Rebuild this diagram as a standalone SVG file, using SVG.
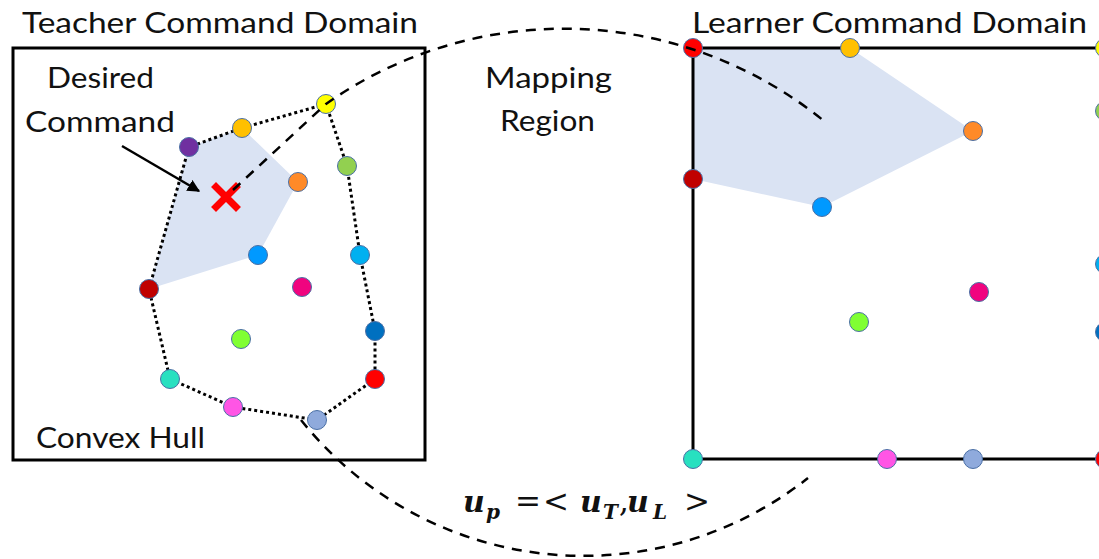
<svg xmlns="http://www.w3.org/2000/svg" width="1099" height="559" viewBox="0 0 1099 559">
  <style>
    .label { font-family: Lato, "Liberation Sans", sans-serif; font-size: 28px; fill: #111; }
    .box { fill: none; stroke: #000; stroke-width: 3; }
    .shade { fill: #dae3f3; stroke: none; }
    .hull { fill: none; stroke: #000; stroke-width: 3; stroke-dasharray: 3 3; }
    .dash { fill: none; stroke: #000; stroke-width: 2.5; stroke-dasharray: 10 8; }
    .pt { stroke: #4a6fa5; stroke-width: 1; }
    .math { font-family: "DejaVu Serif", "Liberation Serif", serif; fill: #111; }
    .mv { font-weight: bold; font-style: italic; font-size: 30px; }
    .ms { font-weight: bold; font-style: italic; font-size: 20px; }
    .mo { font-size: 31px; }
  </style>
  <defs>
    <marker id="arrowHead" viewBox="0 0 10 10" refX="9" refY="5" markerWidth="5" markerHeight="5" orient="auto">
      <path d="M0,0 L10,5 L0,10 z" fill="#000"/>
    </marker>
  </defs>

  <rect width="1099" height="559" fill="#fff"/>

  <!-- domain frames -->
  <g id="teacher-domain">
    <polygon class="shade" points="189,147 242,128 298,182 258,255 149,289"/>
    <rect class="box" x="13" y="48" width="412" height="412"/>
    <text class="label" x="22" y="33" textLength="396" lengthAdjust="spacingAndGlyphs">Teacher Command Domain</text>
    <text class="label" x="36" y="448" textLength="169" lengthAdjust="spacingAndGlyphs">Convex Hull</text>
  </g>
  <g id="learner-domain">
    <polygon class="shade" points="693,48 850,48 973,131 822,207 693,179"/>
    <path class="box" d="M1110,48 H693 V459 H1110"/>
    <text class="label" x="692" y="33" textLength="395" lengthAdjust="spacingAndGlyphs">Learner Command Domain</text>
  </g>

  <!-- convex hull outline in the teacher domain -->
  <g id="hull">
    <polyline class="hull" points="326,104 242,128 189,147 149,289 170,379 233,407 317,420 375,379 375,331 360,255 347,166 326,104"/>
  </g>

  <!-- teacher command samples -->
  <g id="teacher-points">
    <circle id="t-yellow" class="pt" cx="326" cy="104" r="9.5" fill="#ffff00"/>
    <circle id="t-gold" class="pt" cx="242" cy="128" r="9.5" fill="#ffc000"/>
    <circle id="t-purple" class="pt" cx="189" cy="147" r="9.5" fill="#7030a0"/>
    <circle id="t-green" class="pt" cx="347" cy="166" r="9.5" fill="#92d050"/>
    <circle id="t-orange" class="pt" cx="298" cy="182" r="9.5" fill="#ff8a28"/>
    <circle id="t-blue" class="pt" cx="258" cy="255" r="9.5" fill="#0099ff"/>
    <circle id="t-lightblue" class="pt" cx="360" cy="255" r="9.5" fill="#00b0f0"/>
    <circle id="t-darkred" class="pt" cx="149" cy="289" r="9.5" fill="#c00000"/>
    <circle id="t-magenta" class="pt" cx="302" cy="287" r="9.5" fill="#f0047f"/>
    <circle id="t-lime" class="pt" cx="241" cy="339" r="9.5" fill="#80ff33"/>
    <circle id="t-darkblue" class="pt" cx="375" cy="331" r="9.5" fill="#0070c0"/>
    <circle id="t-red" class="pt" cx="375" cy="379" r="9.5" fill="#ff0000"/>
    <circle id="t-teal" class="pt" cx="170" cy="379" r="9.5" fill="#28e0c0"/>
    <circle id="t-pink" class="pt" cx="233" cy="407" r="9.5" fill="#ff55e5"/>
    <circle id="t-slate" class="pt" cx="317" cy="420" r="9.5" fill="#8faadc"/>
  </g>

  <!-- learner command samples -->
  <g id="learner-points">
    <circle id="l-red-corner" class="pt" cx="693" cy="48" r="9.5" fill="#ff0000"/>
    <circle id="l-gold" class="pt" cx="850" cy="48" r="9.5" fill="#ffc000"/>
    <circle id="l-orange" class="pt" cx="973" cy="131" r="9.5" fill="#ff8a28"/>
    <circle id="l-darkred" class="pt" cx="693" cy="179" r="9.5" fill="#c00000"/>
    <circle id="l-blue" class="pt" cx="822" cy="207" r="9.5" fill="#0099ff"/>
    <circle id="l-lime" class="pt" cx="859" cy="322" r="9.5" fill="#80ff33"/>
    <circle id="l-magenta" class="pt" cx="979" cy="292" r="9.5" fill="#f0047f"/>
    <circle id="l-teal" class="pt" cx="693" cy="459" r="9.5" fill="#28e0c0"/>
    <circle id="l-pink" class="pt" cx="887" cy="459" r="9.5" fill="#ff55e5"/>
    <circle id="l-slate" class="pt" cx="973" cy="459" r="9.5" fill="#8faadc"/>
    <circle id="l-yellow" class="pt" cx="1105" cy="48" r="9.5" fill="#ffff00"/>
    <circle id="l-green" class="pt" cx="1105" cy="111" r="9.5" fill="#92d050"/>
    <circle id="l-lightblue" class="pt" cx="1105" cy="264" r="9.5" fill="#00b0f0"/>
    <circle id="l-darkblue" class="pt" cx="1105" cy="332" r="9.5" fill="#0070c0"/>
    <circle id="l-red" class="pt" cx="1105" cy="459" r="9.5" fill="#ff0000"/>
  </g>

  <!-- desired command marker -->
  <g id="desired-command">
    <text class="label" x="47" y="88" textLength="107" lengthAdjust="spacingAndGlyphs">Desired</text>
    <text class="label" x="25" y="132" textLength="150" lengthAdjust="spacingAndGlyphs">Command</text>
    <path d="M216,187 L236,207 M236,187 L216,207" stroke="#ff0000" stroke-width="7" stroke-linecap="square"/>
  </g>

  <g id="mapping-region">
    <text class="label" x="485" y="88" textLength="127" lengthAdjust="spacingAndGlyphs">Mapping</text>
    <text class="label" x="500" y="131" textLength="95" lengthAdjust="spacingAndGlyphs">Region</text>
  </g>

  <!-- connectors -->
  <g id="connectors">
    <line x1="122" y1="146" x2="199" y2="191" stroke="#000" stroke-width="2.5" marker-end="url(#arrowHead)"/>
    <path class="dash" d="M233,190 L326,104 A413,413 0 0 1 824,121"/>
    <path class="dash" d="M301,420 A362,362 0 0 0 808,478"/>
  </g>

  <!-- mapping tuple -->
  <g id="mapping-tuple" class="math">
    <text class="mv" x="463" y="512">u</text>
    <text class="ms" x="486" y="519">p</text>
    <text class="mo" x="515" y="512">=</text>
    <text class="mo" x="543" y="512">&lt;</text>
    <text class="mv" x="580" y="512">u</text>
    <text class="ms" x="603" y="519">T</text>
    <text class="mo" x="619" y="512">,</text>
    <text class="mv" x="627" y="512">u</text>
    <text class="ms" x="653" y="519">L</text>
    <text class="mo" x="684" y="512">&gt;</text>
  </g>
</svg>
